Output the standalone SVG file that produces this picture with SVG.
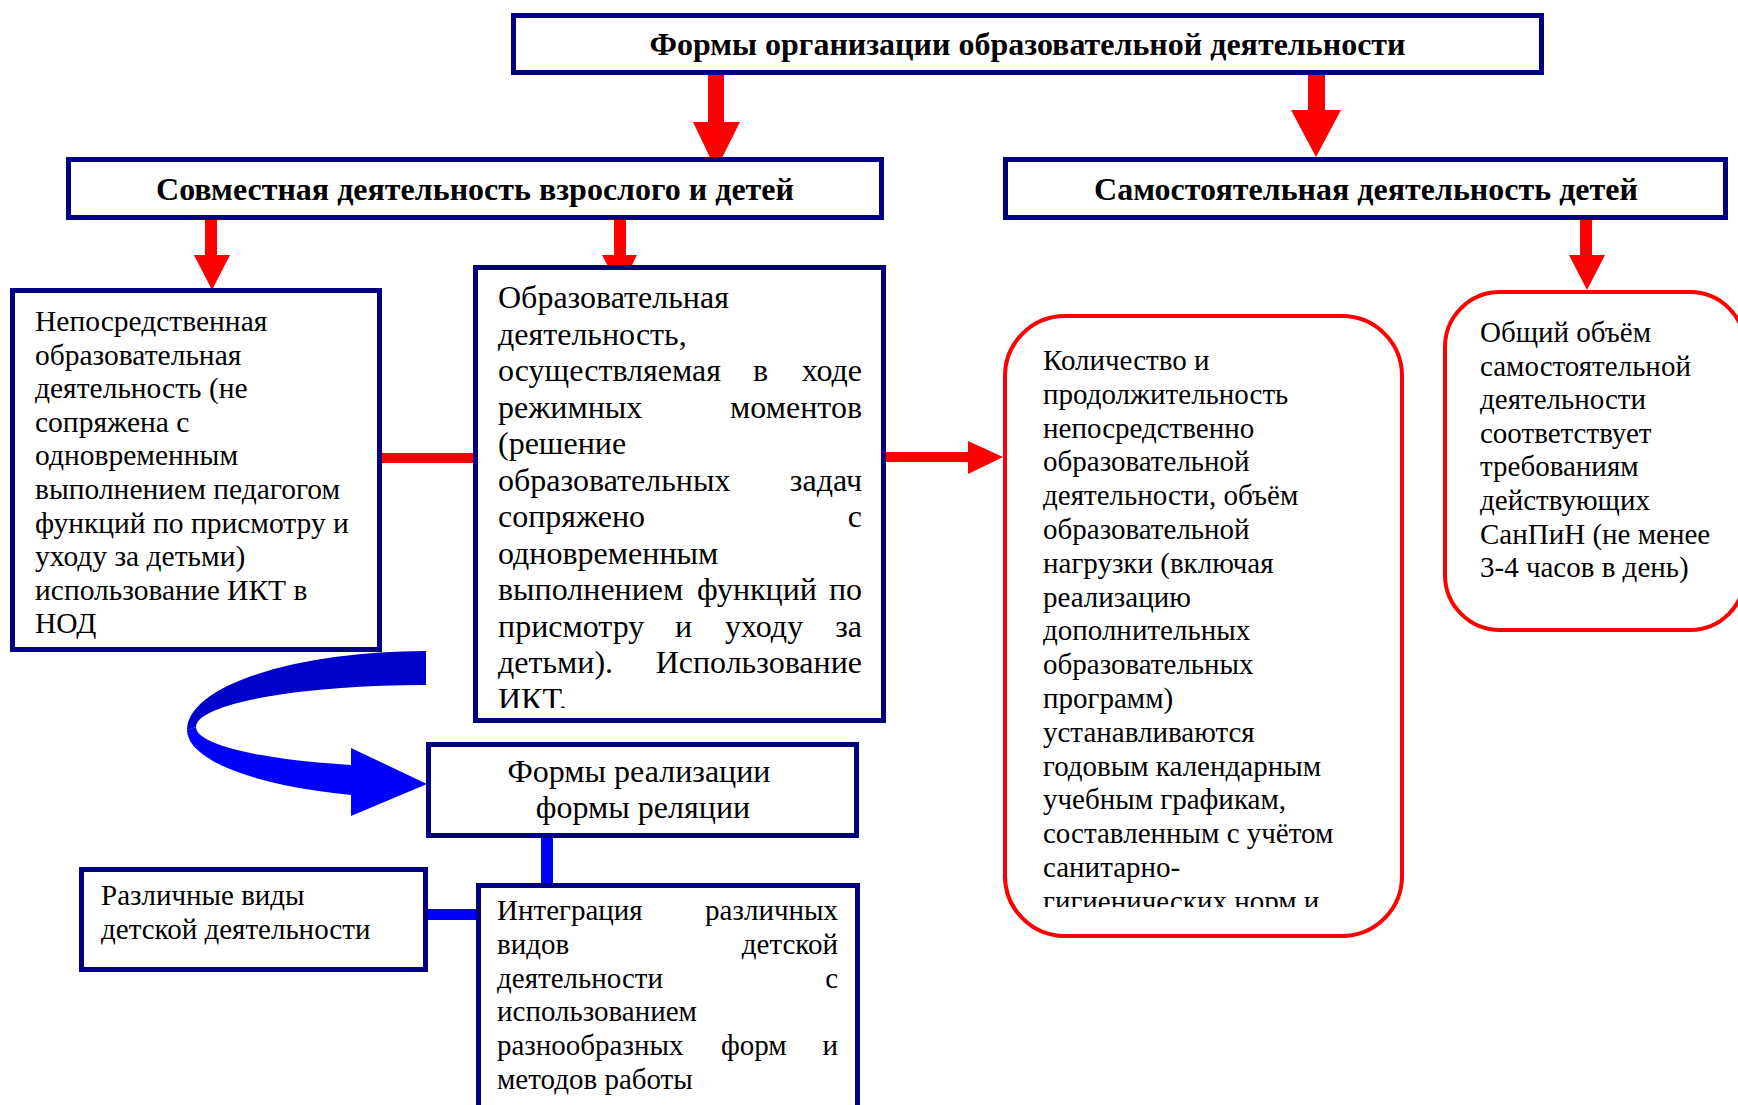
<svg xmlns="http://www.w3.org/2000/svg" width="1738" height="1105" viewBox="0 0 1738 1105">
<style>
.box{fill:#fff;stroke:#000080;stroke-width:5}
.rbox{fill:#fff;stroke:#ff0000;stroke-width:4}
.t{font-family:"Liberation Serif","Times New Roman",serif;font-size:29px;fill:#000}
.big{font-size:32px}
.lb{font-size:29.5px}
.b{font-weight:bold;font-size:32px;text-anchor:middle}
.c{text-anchor:middle}
.e{text-anchor:end}
.red{fill:#ff0000}
.blu{fill:#0000ff}
.dblu{fill:#0000cc}
</style>
<defs>
<clipPath id="clipObr"><rect x="470" y="260" width="420" height="448"/></clipPath>
<clipPath id="clipKol"><rect x="1000" y="310" width="410" height="597"/></clipPath>
</defs>
<rect width="1738" height="1105" fill="#fff"/>

<g id="connectors">
  <rect class="red" x="708" y="74" width="16" height="50"/>
  <polygon class="red" points="693,122 740,122 716,170"/>
  <rect class="red" x="1308" y="74" width="17" height="38"/>
  <polygon class="red" points="1291,110 1341,110 1316,157"/>
  <rect class="red" x="205" y="219" width="12" height="38"/>
  <polygon class="red" points="194,255 230,255 212,290"/>
  <rect class="red" x="614" y="219" width="12" height="38"/>
  <polygon class="red" points="602,255 637,255 620,289"/>
  <rect class="red" x="1580" y="219" width="12" height="38"/>
  <polygon class="red" points="1569,255 1605,255 1587,290"/>
  <rect class="red" x="380" y="453" width="95" height="10"/>
  <rect class="red" x="884" y="452" width="86" height="10"/>
  <polygon class="red" points="968,441 968,474 1003,457"/>
  <path class="dblu" d="M426,651 A239,79 0 0,0 187,730 L196,727 A230,42 0 0,1 426,685 Z"/>
  <path class="blu" d="M187,730 A239,68.5 0 0,0 351,795 L351,816 L427,784 L351,748 L351,765 A230,40 0 0,1 196,727 Z"/>
  <rect class="blu" x="541" y="836" width="12" height="50"/>
  <rect class="blu" x="426" y="909" width="52" height="11"/>
</g>

<g id="n-top">
  <rect class="box" x="513.5" y="15.5" width="1028" height="57"/>
  <text class="t b" x="1027.5" y="55">Формы организации образовательной деятельности</text>
</g>

<g id="n-sovm">
  <rect class="box" x="68.5" y="159.5" width="813" height="58"/>
  <text class="t b" x="475" y="200">Совместная деятельность взрослого и детей</text>
</g>

<g id="n-samo">
  <rect class="box" x="1005.5" y="159.5" width="720" height="58"/>
  <text class="t b" x="1366" y="200">Самостоятельная деятельность детей</text>
</g>

<g id="n-nod">
  <rect class="box" x="12.5" y="290.5" width="367" height="359"/>
  <text class="t lb">
    <tspan x="35" y="331">Непосредственная</tspan>
    <tspan x="35" y="364.6">образовательная</tspan>
    <tspan x="35" y="398.2">деятельность (не</tspan>
    <tspan x="35" y="431.8">сопряжена с</tspan>
    <tspan x="35" y="465.4">одновременным</tspan>
    <tspan x="35" y="499">выполнением педагогом</tspan>
    <tspan x="35" y="532.6">функций по присмотру и</tspan>
    <tspan x="35" y="566.2">уходу за детьми)</tspan>
    <tspan x="35" y="599.8">использование ИКТ в</tspan>
    <tspan x="35" y="633.4">НОД</tspan>
  </text>
</g>

<g id="n-obr">
  <rect class="box" x="475.5" y="267.5" width="408" height="453"/>
  <g class="t big" clip-path="url(#clipObr)">
    <text x="498" y="308">Образовательная</text>
    <text x="498" y="344.5">деятельность,</text>
    <text x="498" y="381">осуществляемая</text><text x="753" y="381">в</text><text class="e" x="862" y="381">ходе</text>
    <text x="498" y="417.5">режимных</text><text class="e" x="862" y="417.5">моментов</text>
    <text x="498" y="454">(решение</text>
    <text x="498" y="490.5">образовательных</text><text class="e" x="862" y="490.5">задач</text>
    <text x="498" y="527">сопряжено</text><text class="e" x="862" y="527">с</text>
    <text x="498" y="563.5">одновременным</text>
    <text x="498" y="600">выполнением</text><text x="697" y="600">функций</text><text class="e" x="862" y="600">по</text>
    <text x="498" y="636.5">присмотру</text><text x="675" y="636.5">и</text><text x="725" y="636.5">уходу</text><text class="e" x="862" y="636.5">за</text>
    <text x="498" y="673">детьми).</text><text class="e" x="862" y="673">Использование</text>
    <text x="498" y="709.5">ИКТ.</text>
  </g>
</g>

<g id="n-kol">
  <rect class="rbox" x="1005" y="316" width="397" height="620" rx="60" ry="60"/>
  <text class="t" clip-path="url(#clipKol)">
    <tspan x="1043" y="370">Количество и</tspan>
    <tspan x="1043" y="403.8">продолжительность</tspan>
    <tspan x="1043" y="437.6">непосредственно</tspan>
    <tspan x="1043" y="471.4">образовательной</tspan>
    <tspan x="1043" y="505.2">деятельности, объём</tspan>
    <tspan x="1043" y="539">образовательной</tspan>
    <tspan x="1043" y="572.8">нагрузки (включая</tspan>
    <tspan x="1043" y="606.6">реализацию</tspan>
    <tspan x="1043" y="640.4">дополнительных</tspan>
    <tspan x="1043" y="674.2">образовательных</tspan>
    <tspan x="1043" y="708">программ)</tspan>
    <tspan x="1043" y="741.8">устанавливаются</tspan>
    <tspan x="1043" y="775.6">годовым календарным</tspan>
    <tspan x="1043" y="809.4">учебным графикам,</tspan>
    <tspan x="1043" y="843.2">составленным с учётом</tspan>
    <tspan x="1043" y="877">санитарно-</tspan>
    <tspan x="1043" y="910.8">гигиенических норм и</tspan>
  </text>
</g>

<g id="n-obsh">
  <rect class="rbox" x="1445" y="292" width="300" height="338" rx="55" ry="55"/>
  <text class="t">
    <tspan x="1480" y="342">Общий объём</tspan>
    <tspan x="1480" y="375.6">самостоятельной</tspan>
    <tspan x="1480" y="409.2">деятельности</tspan>
    <tspan x="1480" y="442.8">соответствует</tspan>
    <tspan x="1480" y="476.4">требованиям</tspan>
    <tspan x="1480" y="510">действующих</tspan>
    <tspan x="1480" y="543.6">СанПиН (не менее</tspan>
    <tspan x="1480" y="577.2">3-4 часов в день)</tspan>
  </text>
</g>

<g id="n-formy">
  <rect class="box" x="428.5" y="744.5" width="428" height="91"/>
  <text class="t big c">
    <tspan x="643" y="782">Формы реализации</tspan>
    <tspan x="643" y="818">формы реляции</tspan>
  </text>
</g>

<g id="n-razl">
  <rect class="box" x="81.5" y="869.5" width="344" height="100"/>
  <text class="t">
    <tspan x="101" y="905">Различные виды</tspan>
    <tspan x="101" y="939">детской деятельности</tspan>
  </text>
</g>

<g id="n-integr">
  <rect class="box" x="478.5" y="885.5" width="379" height="260"/>
  <g class="t">
    <text x="497" y="920">Интеграция</text><text class="e" x="838" y="920">различных</text>
    <text x="497" y="953.8">видов</text><text class="e" x="838" y="953.8">детской</text>
    <text x="497" y="987.6">деятельности</text><text class="e" x="838" y="987.6">с</text>
    <text x="497" y="1021.4">использованием</text>
    <text x="497" y="1055.2">разнообразных</text><text x="721" y="1055.2">форм</text><text class="e" x="838" y="1055.2">и</text>
    <text x="497" y="1089">методов работы</text>
  </g>
</g>
</svg>
